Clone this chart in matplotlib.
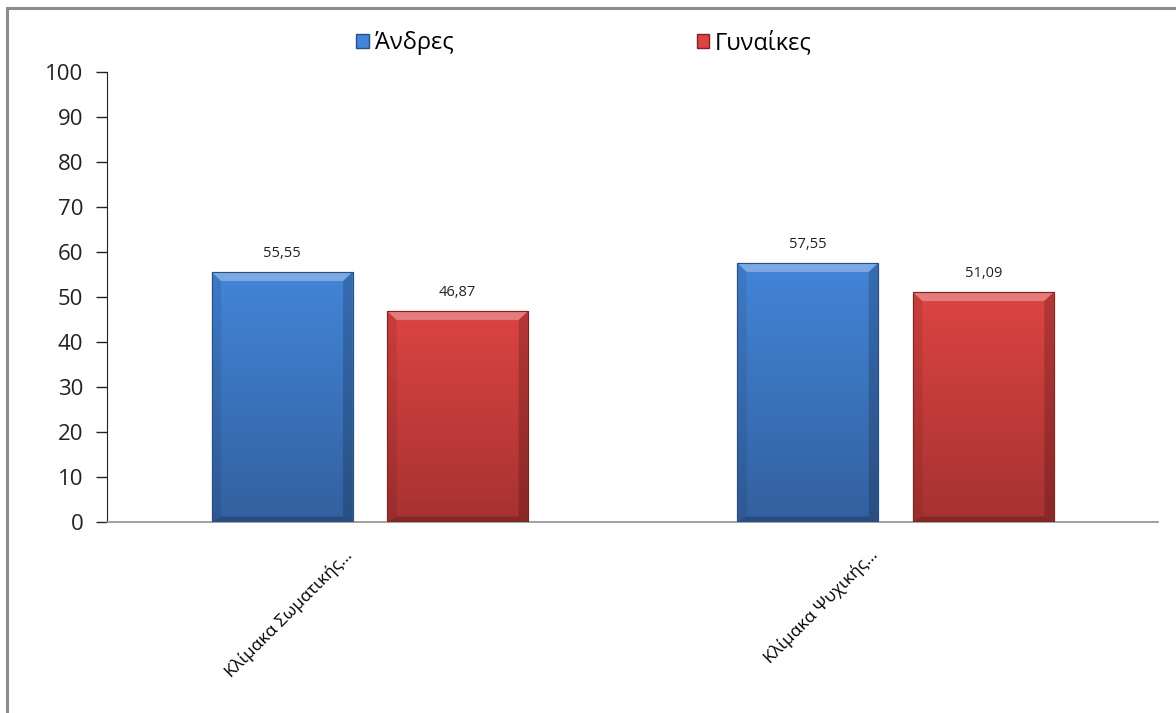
import numpy as np
import matplotlib
matplotlib.use('Agg')
import matplotlib.pyplot as plt
from matplotlib.colors import LinearSegmentedColormap
from matplotlib.patches import Rectangle, Patch
from matplotlib.transforms import ScaledTranslation

plt.rcParams['font.family'] = ['Open Sans', 'Noto Sans', 'DejaVu Sans']

# Δεδομένα
categories = ['Κλίμακα Σωματικής...', 'Κλίμακα Ψυχικής...']
series_names = ['Άνδρες', 'Γυναίκες']
andres = [55.55, 57.55]
gynaikes = [46.87, 51.09]
yticks = list(range(0, 101, 10))

# χρώματα: (πάνω, κάτω, περίγραμμα)
blue = ('#4385d8', '#33609f', '#2a4f85')
red = ('#dc4442', '#a63231', '#7e2524')

fig = plt.figure(figsize=(11.76, 7.13), dpi=100)
ax = fig.add_axes([0.091, 0.268, 0.894, 0.631])

# γκρι πλαίσιο γύρω από το γράφημα
fig.patches.append(Rectangle((7 / 1176, -0.05), 1.2, 1 - 8 / 713 + 0.05,
                             transform=fig.transFigure, fill=False,
                             edgecolor='#8c8c8c', linewidth=2.2))

x = np.arange(len(categories))
w = 0.268
off = 0.167


def shaded_bars(xpos, vals, cols):
    bars = ax.bar(xpos, vals, w, color=cols[0], edgecolor=cols[2], linewidth=0.8, zorder=2)
    cmap = LinearSegmentedColormap.from_list('g', [cols[1], cols[0]])
    grad = np.linspace(0, 1, 256).reshape(-1, 1)
    for b in bars:
        x0, y0, bw, bh = b.get_x(), b.get_y(), b.get_width(), b.get_height()
        im = ax.imshow(grad, cmap=cmap, extent=[x0, x0 + bw, y0, y0 + bh],
                       aspect='auto', origin='lower', zorder=3)
        im.set_clip_path(b)
        # φωτεινή λωρίδα στην κορυφή (ανάγλυφο)
        ax.fill([x0, x0 + bw, x0 + bw - 0.018, x0 + 0.018],
                [y0 + bh, y0 + bh, y0 + bh - 2.0, y0 + bh - 2.0],
                color='white', alpha=0.3, lw=0, zorder=4)
        # σκούρες πλευρές
        ax.fill([x0 + bw, x0 + bw, x0 + bw - 0.018, x0 + bw - 0.018],
                [y0, y0 + bh, y0 + bh - 2.0, y0 + 1.2],
                color='black', alpha=0.18, lw=0, zorder=4)
        ax.fill([x0, x0, x0 + 0.018, x0 + 0.018],
                [y0, y0 + bh, y0 + bh - 2.0, y0 + 1.2],
                color='black', alpha=0.08, lw=0, zorder=4)
        ax.fill([x0, x0 + bw, x0 + bw - 0.018, x0 + 0.018],
                [y0, y0, y0 + 1.2, y0 + 1.2],
                color='black', alpha=0.2, lw=0, zorder=4)
        ax.add_patch(Rectangle((x0, y0), bw, bh, fill=False, edgecolor=cols[2],
                               linewidth=0.8, zorder=5))
        ax.annotate(f'{bh:.2f}'.replace('.', ','), (x0 + bw / 2, y0 + bh),
                    xytext=(0, 8), textcoords='offset points',
                    ha='center', va='bottom', fontsize=10.5, color='#222222')
    return bars


shaded_bars(x - off, andres, blue)
shaded_bars(x + off, gynaikes, red)

ax.set_xlim(-0.5, len(categories) - 0.5)
ax.set_ylim(0, 100)
ax.set_yticks(yticks)
ax.tick_params(axis='y', direction='out', length=8, width=1, pad=9,
               labelsize=16, colors='#222222')
ax.set_xticks(x)
ax.set_xticklabels(categories, rotation=45, ha='right', va='top', fontsize=12.5)
ax.tick_params(axis='x', length=0, pad=18)
# μικρή μετατόπιση των ετικετών προς τα αριστερά
shift = ScaledTranslation(-10 / 72, 0, fig.dpi_scale_trans)
for lbl in ax.get_xticklabels():
    lbl.set_transform(lbl.get_transform() + shift)

for s in ['top', 'right']:
    ax.spines[s].set_visible(False)
ax.spines['left'].set_color('#222222')
ax.spines['bottom'].set_color('#909090')
ax.spines['bottom'].set_linewidth(1.2)

handles = [Patch(facecolor=blue[0], edgecolor=blue[2]),
           Patch(facecolor=red[0], edgecolor=red[2])]
fig.legend(handles, series_names, loc='center left', bbox_to_anchor=(0.285, 0.94),
           ncol=2, frameon=False, fontsize=17, handlelength=0.52, handleheight=0.52,
           handletextpad=0.25, columnspacing=10.3)

fig.savefig('out.png', dpi=100, facecolor='white')
